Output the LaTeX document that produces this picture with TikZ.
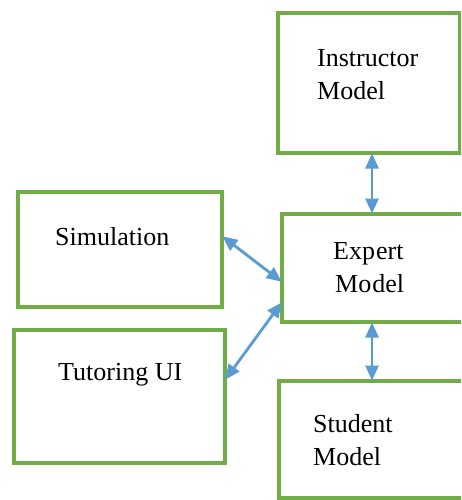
\documentclass[tikz,border=0pt]{standalone}
\usepackage{fontspec}
\setmainfont{Liberation Serif}
\usetikzlibrary{arrows.meta}
\definecolor{boxgreen}{RGB}{112,173,71}
\definecolor{arrblue}{RGB}{91,155,213}
\begin{document}
\begin{tikzpicture}[x=1pt,y=-1pt,
  box/.style={draw=boxgreen,line width=3.2pt,fill=white,inner sep=0pt,outer sep=0pt},
  lbl/.style={anchor=base west,inner sep=0pt,font=\fontsize{26}{33}\selectfont,align=left},
  bluetip/.tip={Triangle[length=15pt,width=13pt]},
  arr/.style={draw=arrblue,line width=2.8pt,bluetip-bluetip,shorten <=0.5pt,shorten >=0.5pt}]
\useasboundingbox (0,0) rectangle (461,500);
\clip (0,0) rectangle (461,500);
\fill[white] (0,0) rectangle (461,500);
% boxes
\node[box,minimum width=182pt,minimum height=140pt] (instr) at (369,83) {};
\node[box,minimum width=200pt,minimum height=108pt] (expert) at (382,268) {};
\node[box,minimum width=204pt,minimum height=115pt] (sim) at (120,249.5) {};
\node[box,minimum width=211pt,minimum height=133pt] (tutor) at (119.5,396.5) {};
\node[box,minimum width=201pt,minimum height=117pt] (student) at (379.5,439.5) {};
% labels (anchor = baseline of last line)
\node[lbl] (tinstr) at (317,100) {Instructor\\Model};
\node[lbl] (texpert) at (333,292) {Exp\hspace{1pt}ert\\\hspace*{2pt}Mo\hspace{1pt}del};
\node[lbl] (tsim) at (55,245) {Simulation};
\node[lbl] (ttutor) at (58,380) {Tutoring UI};
\node[lbl] (tstudent) at (313,465) {Student\\Model};
% connector guides
\coordinate (ax) at (372,0);
\coordinate (y1) at (0,236);
\coordinate (y2) at (0,282);
\coordinate (y3) at (0,302);
\coordinate (y4) at (0,380);
% connectors
\draw[arr] (instr.south -| ax) -- (expert.north -| ax);
\draw[arr] (expert.south -| ax) -- (student.north -| ax);
\draw[arr] (sim.east |- y1) -- (expert.west |- y2);
\draw[arr] (expert.west |- y3) -- (tutor.east |- y4);
\end{tikzpicture}
\end{document}
